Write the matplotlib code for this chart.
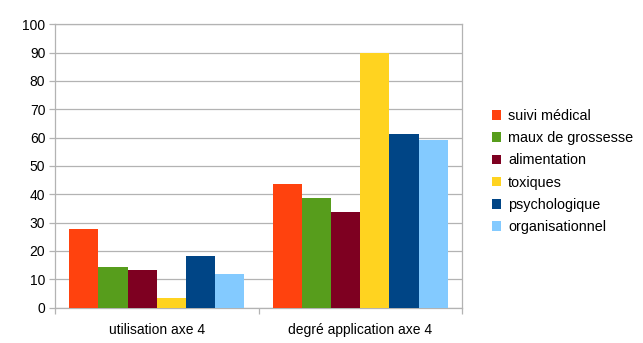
import matplotlib
matplotlib.use("Agg")
import matplotlib.pyplot as plt
import numpy as np

plt.rcParams['font.family'] = ['Liberation Sans', 'DejaVu Sans']

categories = ["utilisation axe 4", "degré application axe 4"]
series_names = ["suivi médical", "maux de grossesse", "alimentation",
                "toxiques", "psychologique", "organisationnel"]
suivi_medical = [27.6, 43.7]
maux_de_grossesse = [14.2, 38.7]
alimentation = [13.3, 33.6]
toxiques = [3.2, 90.0]
psychologique = [18.2, 61.1]
organisationnel = [11.9, 59.2]
values = [suivi_medical, maux_de_grossesse, alimentation, toxiques,
          psychologique, organisationnel]
colors = ["#ff420e", "#579d1c", "#7e0021", "#ffd320", "#004586", "#83caff"]
yticks = list(range(0, 101, 10))

fig = plt.figure(figsize=(6.43, 3.43), dpi=100)
ax = fig.add_axes([55/643, (343-307.5)/343, (462-55)/643, (307.5-24.3)/343])

n = len(series_names)
group_w = 0.86
bw = group_w / n
x = np.arange(len(categories))
for i, (name, vals, c) in enumerate(zip(series_names, values, colors)):
    ax.bar(x - group_w/2 + bw*(i+0.5), vals, width=bw, color=c, label=name,
           zorder=3, linewidth=0)

ax.set_xlim(-0.5, len(categories) - 0.5)
ax.set_ylim(0, 100)
ax.set_yticks(yticks)
ax.yaxis.grid(True, color="#b3b3b3", linewidth=0.9, zorder=0)
ax.set_axisbelow(True)
for s in ax.spines.values():
    s.set_color("#b3b3b3")
    s.set_linewidth(0.9)
ax.tick_params(axis='y', colors="#b3b3b3", labelcolor="#000000", length=4,
               width=0.9, labelsize=10, pad=3)
ax.set_xticks(x)
ax.set_xticklabels(categories, fontsize=10)
ax.tick_params(axis='x', length=0, pad=11)
ax.set_xticks([-0.5, 0.5, 1.5], minor=True)
ax.tick_params(axis='x', which='minor', length=4, width=0.9, colors="#b3b3b3")

leg = ax.legend(loc='upper left', bbox_to_anchor=(492/643, 234/343),
                bbox_transform=fig.transFigure, frameon=False, fontsize=10.4,
                handlelength=0.65, handleheight=0.65, handletextpad=0.45,
                labelspacing=0.57, borderaxespad=0, borderpad=0)

fig.savefig("out.png", dpi=100)
